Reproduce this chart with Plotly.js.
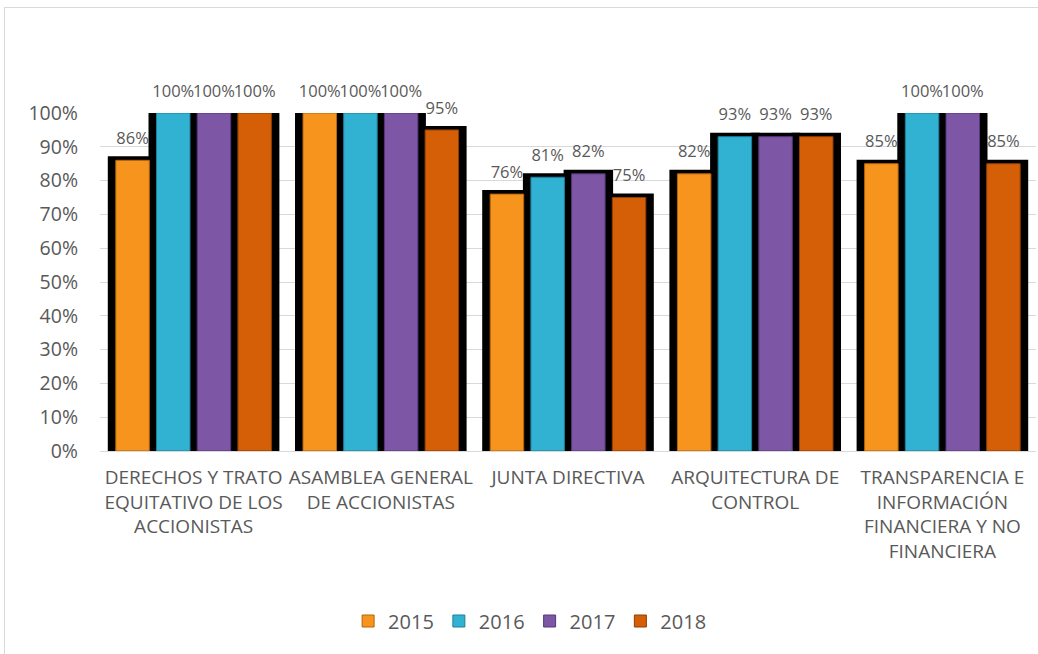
<!DOCTYPE html>
<html>
<head>
<meta charset="utf-8">
<script src="https://cdn.plot.ly/plotly-3.0.1.min.js"></script>
<style>
  html, body { margin: 0; padding: 0; background: #fff; }
  #wrap { position: relative; width: 1038px; height: 654px; overflow: hidden; }
  #chart { width: 1038px; height: 654px; }
  #frame { position: absolute; left: 4px; top: 7px; width: 1100px; height: 700px;
           border: 1px solid #d9d9d9; pointer-events: none; }
</style>
</head>
<body>
<div id="wrap"><div id="chart"></div><div id="frame"></div></div>
<script>
const categories = [
  'DERECHOS Y TRATO<br>EQUITATIVO DE LOS<br>ACCIONISTAS',
  'ASAMBLEA GENERAL<br>DE ACCIONISTAS',
  'JUNTA DIRECTIVA',
  'ARQUITECTURA DE<br>CONTROL',
  'TRANSPARENCIA E<br>INFORMACIÓN<br>FINANCIERA Y NO<br>FINANCIERA'
];
const years = ['2015', '2016', '2017', '2018'];
const v2015 = [0.86, 1.00, 0.76, 0.82, 0.85];
const v2016 = [1.00, 1.00, 0.81, 0.93, 1.00];
const v2017 = [1.00, 1.00, 0.82, 0.93, 1.00];
const v2018 = [1.00, 0.95, 0.75, 0.93, 0.85];
const yTicks = [0, 0.1, 0.2, 0.3, 0.4, 0.5, 0.6, 0.7, 0.8, 0.9, 1.0];

const series = [v2015, v2016, v2017, v2018];
const colors = ['#F7941E', '#31B2D3', '#7E56A6', '#D55F07'];
const edges  = ['#B5650C', '#1E7F99', '#55387A', '#8F3E03'];
const FONT = 'Open Sans, sans-serif';
const GRAY = '#595959';

// layout geometry (in px, converted to x-axis units)
const W = 1038, H = 654;
const M = { l: 100, r: 2, t: 113, b: 203 };
const pxPerUnit = (W - M.l - M.r) / categories.length;
const pitch = 40.7 / pxPerUnit;       // distance between bar centres
const barW = 33.5 / pxPerUnit;        // coloured bar width
const shadowW = (33.5 + 8) / pxPerUnit; // black backing (plus 8px outline)
const xs = categories.map((c, i) => i);
const centre = j => (j - (series.length - 1) / 2) * pitch;

const traces = [];
// black backing
series.forEach((vals, j) => {
  traces.push({
    type: 'bar', showlegend: false, x: xs, y: vals,
    width: shadowW, offset: centre(j) - shadowW / 2,
    marker: { color: '#000000', line: { color: '#000000', width: 8 } },
    cliponaxis: true, hoverinfo: 'skip'
  });
});
// coloured bars
series.forEach((vals, j) => {
  traces.push({
    type: 'bar', name: years[j], x: xs, y: vals,
    width: barW, offset: centre(j) - barW / 2,
    marker: { color: colors[j], line: { color: edges[j], width: 1 } },
    cliponaxis: true, hoverinfo: 'y'
  });
});
// value labels
series.forEach((vals, j) => {
  traces.push({
    type: 'scatter', mode: 'markers+text', showlegend: false,
    x: xs.map(i => i + centre(j)),
    y: vals,
    text: vals.map(v => Math.round(v * 100) + '%'),
    textposition: 'top center',
    textfont: { family: FONT, size: 16.5, color: GRAY },
    marker: { size: 18, opacity: 0 },
    cliponaxis: false, hoverinfo: 'skip'
  });
});

const layout = {
  width: W, height: H,
  margin: M,
  paper_bgcolor: '#ffffff', plot_bgcolor: '#ffffff',
  barmode: 'overlay',
  font: { family: FONT, color: GRAY },
  xaxis: {
    range: [-0.5, 4.5], tickmode: 'array', tickvals: xs, ticktext: categories,
    showgrid: false, zeroline: false, showline: false, ticks: '',
    ticklabelstandoff: 13,
    tickfont: { family: FONT, size: 19, color: GRAY }, fixedrange: true
  },
  yaxis: {
    range: [0, 1], tickmode: 'array', tickvals: yTicks,
    tickformat: '.0%', showgrid: true, gridcolor: '#d9d9d9', gridwidth: 1,
    zeroline: true, zerolinecolor: '#d9d9d9', zerolinewidth: 1,
    showline: false, ticks: '', ticklabelstandoff: 21,
    tickfont: { family: FONT, size: 19.5, color: GRAY }, fixedrange: true
  },
  legend: {
    orientation: 'h', x: 0.459, xanchor: 'center', y: -0.503, yanchor: 'middle',
    font: { family: FONT, size: 20, color: GRAY }, traceorder: 'normal'
  },
  showlegend: true
};

Plotly.newPlot('chart', traces, layout, { displayModeBar: false, staticPlot: true });
</script>
</body>
</html>
